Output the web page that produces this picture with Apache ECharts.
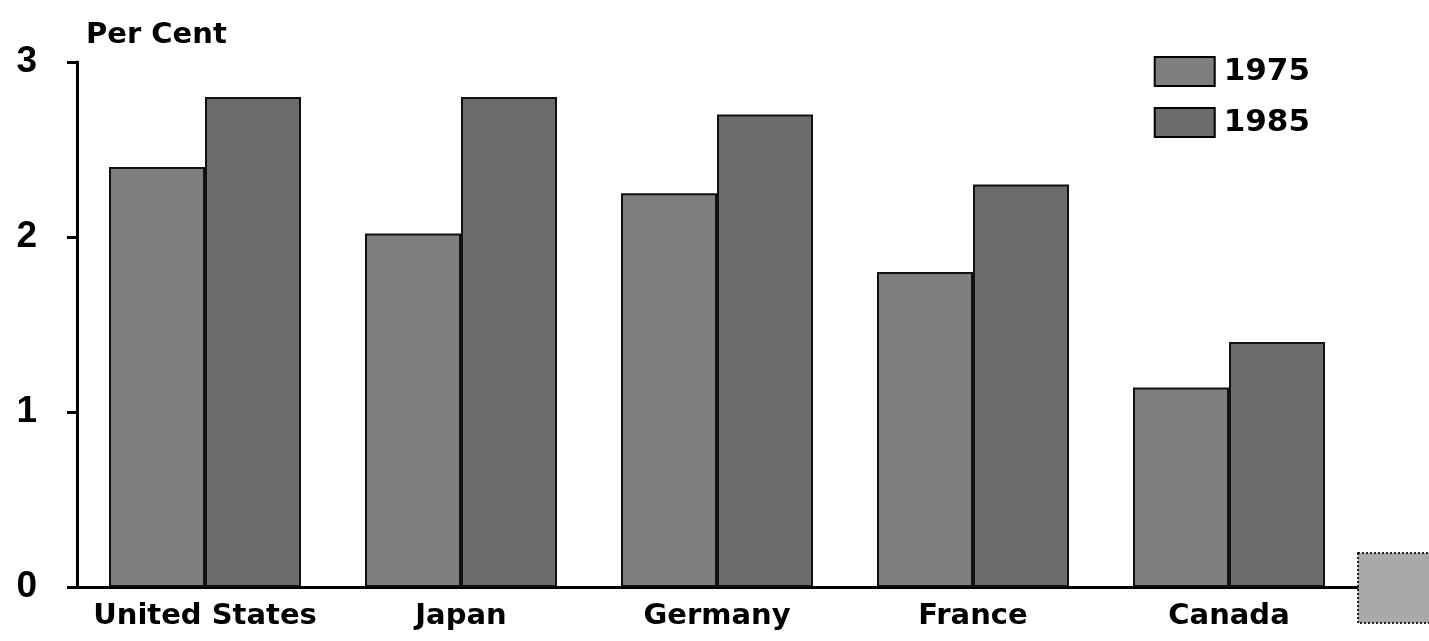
<!DOCTYPE html>
<html>
<head>
<meta charset="utf-8">
<script src="https://cdn.jsdelivr.net/npm/echarts@6/dist/echarts.min.js"></script>
<style>
  html, body { margin: 0; padding: 0; background: #fff; }
  #chart { width: 1429px; height: 641px; }
</style>
</head>
<body>
<div id="chart"></div>
<script>
// Countries on the category axis
const countries = ['United States', 'Japan', 'Germany', 'France', 'Canada'];
// Per-cent values for each year
const values1975 = [2.4, 2.02, 2.25, 1.8, 1.14];
const values1985 = [2.8, 2.8, 2.7, 2.3, 1.4];
// Value axis ticks
const yTicks = [0, 1, 2, 3];

const WIDE = '"DejaVu Sans", Verdana, sans-serif';
const NARROW = '"Liberation Sans", Arial, Helvetica, sans-serif';

const chart = echarts.init(document.getElementById('chart'));
chart.setOption({
  backgroundColor: '#ffffff',
  animation: false,
  textStyle: { fontFamily: WIDE },
  grid: { left: 77, right: 72, top: 62, bottom: 54 },
  legend: {
    right: 114, top: 51,
    orient: 'vertical',
    itemWidth: 60, itemHeight: 29, itemGap: 20,
    icon: 'rect',
    itemStyle: { borderColor: '#000', borderWidth: 2 },
    textStyle: { fontFamily: WIDE, fontWeight: 'bold', fontSize: 31, color: '#000', padding: [0, 0, 0, 4] },
    data: ['1975', '1985']
  },
  xAxis: {
    type: 'category',
    data: countries,
    axisLine: { lineStyle: { color: '#000', width: 3 } },
    axisTick: { alignWithLabel: true, length: 7, lineStyle: { color: '#000', width: 3 } },
    axisLabel: { interval: 0, color: '#000', fontWeight: 'bold', fontSize: 29, margin: 15, fontFamily: WIDE },
    splitLine: { show: false }
  },
  yAxis: {
    type: 'value',
    min: yTicks[0], max: yTicks[yTicks.length - 1], interval: 1,
    name: 'Per Cent',
    nameLocation: 'end',
    nameGap: 12,
    nameTextStyle: { color: '#000', fontWeight: 'bold', fontSize: 29, align: 'left', padding: [0, 0, 0, 9], fontFamily: WIDE },
    axisLine: { show: true, lineStyle: { color: '#000', width: 3 } },
    axisTick: { show: true, length: 10, lineStyle: { color: '#000', width: 3 } },
    axisLabel: { color: '#000', fontWeight: 'bold', fontSize: 37, margin: 40, padding: [0, 0, 8, 0], fontFamily: NARROW },
    splitLine: { show: false }
  },
  series: [
    {
      name: '1975', type: 'bar', data: values1975,
      barGap: '0%', barCategoryGap: '25%',
      itemStyle: { color: '#7e7e7e', borderColor: '#111', borderWidth: 2 }
    },
    {
      name: '1985', type: 'bar', data: values1985,
      itemStyle: { color: '#6c6c6c', borderColor: '#111', borderWidth: 2 }
    }
  ],
  graphic: [
    {
      type: 'rect',
      shape: { x: 1358, y: 553, width: 75, height: 70 },
      style: { fill: '#a8a8a8', stroke: '#222', lineWidth: 2, lineDash: [2, 2] }
    }
  ]
});
</script>
</body>
</html>
